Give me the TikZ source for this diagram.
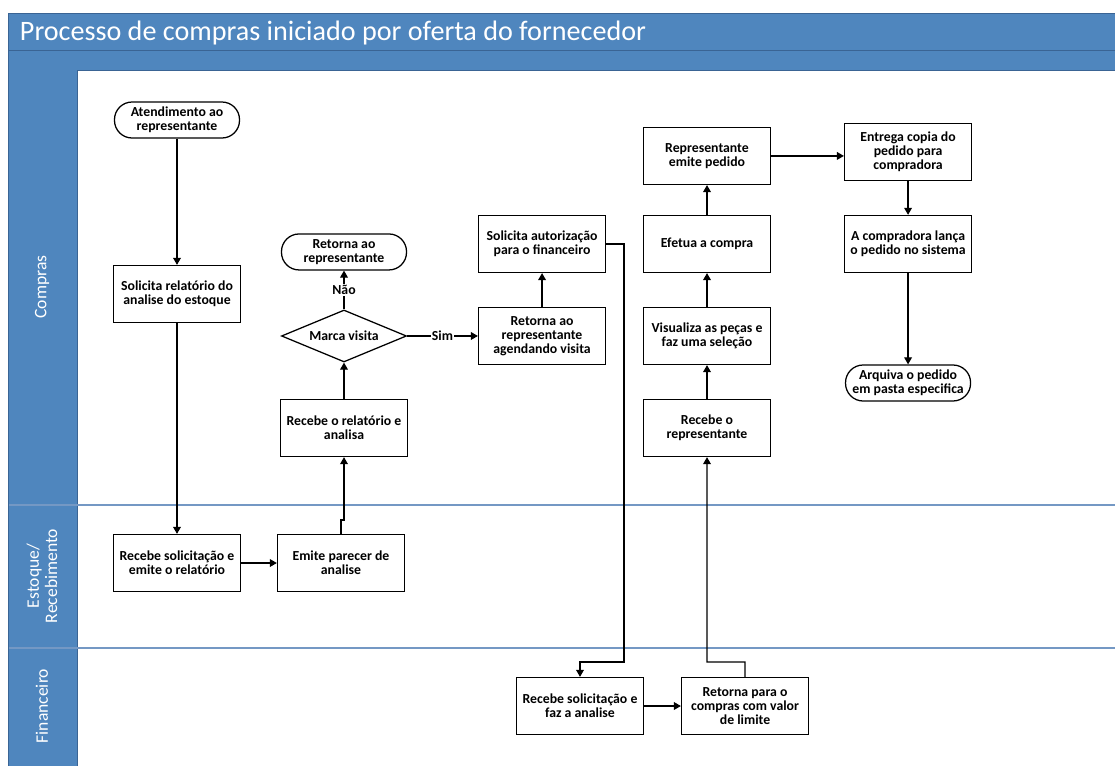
\documentclass[tikz,border=0pt]{standalone}
\usepackage{fontspec}
\setmainfont{Carlito}
\usetikzlibrary{shapes.geometric,arrows.meta,positioning}

\definecolor{laneblue}{RGB}{79,134,190}
\definecolor{laneedge}{RGB}{58,100,148}
\definecolor{laneline}{RGB}{116,152,196}

\tikzstyle{block} = [rectangle, draw=black, line width=0.9pt, minimum width=3.175cm, minimum height=1.425cm, inner sep=1pt, align=center, font=\fontsize{9.8}{9.9}\selectfont\bfseries]
\tikzstyle{term} = [rectangle, rounded corners=0.44cm, draw=black, line width=0.9pt, minimum width=3.125cm, minimum height=0.9cm, inner sep=1pt, align=center, font=\fontsize{9.8}{9.9}\selectfont\bfseries]
\tikzstyle{decision} = [diamond, draw=black, line width=0.9pt, aspect=2.4, minimum width=3.125cm, minimum height=1.3cm, inner sep=0pt, font=\fontsize{9.8}{9.9}\selectfont\bfseries]
\tikzstyle{arrow} = [line width=0.9pt,-{Triangle[length=5pt,width=5.5pt]}]
\tikzstyle{label} = [fill=white, inner sep=1pt, font=\fontsize{9.8}{9.9}\selectfont\bfseries]
\tikzstyle{lanetext} = [rotate=90, text=white, align=center, font=\fontsize{12.5}{13}\selectfont]

\begin{document}
\begin{tikzpicture}[x=0.025cm, y=-0.025cm]
\useasboundingbox (0,0) rectangle (1115,765);

% Lanes
\fill[white] (8,13) rectangle (1120,770);
\fill[laneblue] (8,13) rectangle (1120,70);
\fill[laneblue] (8,70) rectangle (77,770);
\draw[laneedge, line width=0.6pt] (8,50) -- (1120,50);
\draw[laneedge, line width=0.6pt] (77,70) -- (1120,70);
\draw[laneedge, line width=0.6pt] (77,70) -- (77,770);
\draw[laneline, line width=0.8pt] (8,505) -- (1120,505);
\draw[laneline, line width=0.8pt] (8,648) -- (1120,648);
\draw[laneedge, line width=0.6pt] (8,770) -- (8,13) -- (1120,13);
\node (title) [anchor=west, text=white, font=\fontsize{20}{22}\selectfont] at (15,33) {Processo de compras iniciado por oferta do fornecedor};
\node (compras) [lanetext] at (42,287) {Compras};
\node (estoque) [lanetext] at (42,576) {Estoque/\\Recebimento};
\node (finan) [lanetext] at (42,706) {Financeiro};

% Compras / Estoque
\node (atend) [term] at (177,120) {Atendimento ao\\representante};
\node (solic) [block] at (177,294) {Solicita relatório do\\analise do estoque};
\node (recsol) [block] at (177,563) {Recebe solicitação e\\emite o relatório};
\node (emite) [block] at (341,563) {Emite parecer de\\analise};
\node (recrel) [block] at (344,428) {Recebe o relatório e\\analisa};
\node (marca) [decision, above of=recrel, node distance=2.3cm] {Marca visita};
\node (retorna) [term, above of=marca, node distance=2.1cm] {Retorna ao\\representante};
\node (agenda) [block, right of=marca, node distance=4.95cm] {Retorna ao\\representante\\agendando visita};
\node (autor) [block, above of=agenda, node distance=2.3cm] {Solicita autorização\\para o financeiro};

% Financeiro
\node (recfin) [block] at (580,706) {Recebe solicitação e\\faz a analise};
\node (retfin) [block, right of=recfin, node distance=4.125cm] {Retorna para o\\compras com valor\\de limite};

% Pedido
\node (recrep) [block] at (707,428) {Recebe o\\representante};
\node (visual) [block, above of=recrep, node distance=2.3cm] {Visualiza as peças e\\faz uma seleção};
\node (efetua) [block, above of=visual, node distance=2.3cm] {Efetua a compra};
\node (emitped) [block, above of=efetua, node distance=2.2cm] {Representante\\emite pedido};
\node (entrega) [block, right of=emitped, node distance=5.025cm, yshift=0.1cm] {Entrega copia do\\pedido para\\compradora};
\node (lanca) [block, below of=entrega, node distance=2.3cm] {A compradora lança\\o pedido no sistema};
\node (arquiva) [term, below of=lanca, node distance=3.475cm] {Arquiva o pedido\\em pasta especifica};

\coordinate (autorturn) at (624,662);
\coordinate (retturn) at (745,662);
\coordinate (emiteturn) at (341,520);

\draw [arrow] (atend) -- (solic);
\draw [arrow] (solic) -- (recsol);
\draw [arrow] (recsol) -- (emite);
\draw [arrow] (emite.north) -- (emiteturn) -| (recrel.south);
\draw [arrow] (recrel) -- (marca);
\draw [arrow] (marca) -- (retorna) node[midway, label]{Não};
\draw [arrow] (marca) -- (agenda) node[midway, label]{Sim};
\draw [arrow] (agenda) -- (autor);
\draw [arrow] (autor.east) -| (autorturn) -| (recfin.north);
\draw [arrow] (recfin) -- (retfin);
\draw [arrow] (retfin.north) -- (retturn) -| (recrep.south);
\draw [arrow] (recrep) -- (visual);
\draw [arrow] (visual) -- (efetua);
\draw [arrow] (efetua) -- (emitped);
\draw [arrow] (emitped.east) -- (emitped.east -| entrega.west);
\draw [arrow] (entrega) -- (lanca);
\draw [arrow] (lanca) -- (arquiva);
\end{tikzpicture}
\end{document}
